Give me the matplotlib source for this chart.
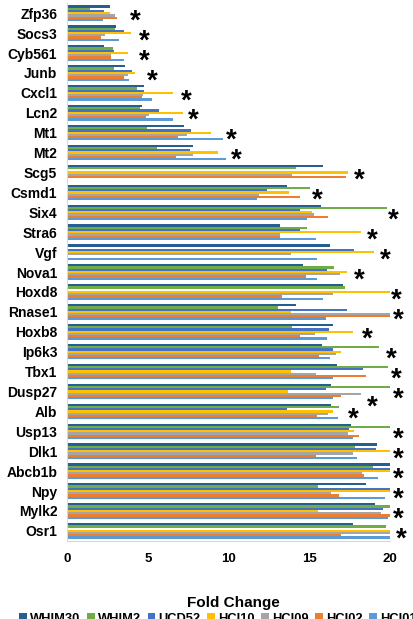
import numpy as np
import matplotlib
matplotlib.use("Agg")
import matplotlib.pyplot as plt

plt.rcParams["font.family"] = ["Liberation Sans", "DejaVu Sans"]
plt.rcParams["font.weight"] = "bold"

# genes listed top to bottom
genes = ["Zfp36", "Socs3", "Cyb561", "Junb", "Cxcl1", "Lcn2", "Mt1", "Mt2",
         "Scg5", "Csmd1", "Six4", "Stra6", "Vgf", "Nova1", "Hoxd8", "Rnase1",
         "Hoxb8", "Ip6k3", "Tbx1", "Dusp27", "Alb", "Usp13", "Dlk1", "Abcb1b",
         "Npy", "Mylk2", "Osr1"]

series = ["WHIM30", "WHIM2", "UCD52", "HCI10", "HCI09", "HCI02", "HCI01"]
colors = ["#255E91", "#70AD47", "#4472C4", "#FFC000", "#A5A5A5", "#ED7D31", "#5B9BD5"]

whim30 = [2.66, 3.03, 2.29, 3.59, 4.79, 4.62, 7.27, 7.78, 15.87, 13.6, 15.73, 13.19, 16.28,
          14.63, 17.07, 14.16, 16.49, 15.77, 16.7, 16.35, 16.35, 17.57, 19.18, 20, 18.5, 19.07, 17.73]
whim2 = [1.42, 2.97, 2.83, 2.91, 4.32, 4.52, 4.93, 5.55, 14.16, 15.05, 19.79, 14.84, 0,
         16.53, 17.21, 13.05, 13.91, 19.34, 19.86, 20, 16.86, 20, 17.83, 18.97, 15.52, 20, 19.75]
ucd52 = [2.29, 3.55, 2.91, 4.0, 4.77, 5.68, 7.66, 7.62, 0, 12.36, 14.43, 14.43, 17.77,
         16.08, 0, 17.32, 16.24, 16.49, 18.31, 16.04, 13.6, 17.46, 19.11, 20, 20, 19.59, 0]
hci10 = [2.66, 3.94, 3.78, 4.19, 6.58, 7.16, 8.92, 9.33, 17.42, 13.77, 15.15, 18.18, 19.01,
         17.36, 20, 13.87, 17.73, 16.95, 13.87, 13.66, 16.45, 17.77, 20, 20, 20, 15.56, 20]
hci09 = [2.97, 2.35, 2.7, 3.76, 4.69, 5.06, 7.45, 7.82, 13.91, 11.91, 15.29, 13.19, 13.85,
         16.9, 16.49, 20, 15.36, 16.66, 15.42, 18.2, 16.18, 17.42, 17.69, 18.25, 16.35, 19.42, 20]
hci02 = [3.07, 2.1, 2.72, 3.53, 4.64, 4.87, 6.85, 6.73, 17.26, 14.43, 16.14, 13.19, 0,
         14.8, 13.29, 20, 14.43, 15.6, 18.5, 16.97, 15.46, 18.1, 15.39, 18.39, 16.86, 20, 16.95]
hci01 = [2.21, 3.22, 3.53, 3.84, 5.24, 6.54, 9.68, 9.83, 0, 11.78, 14.84, 15.42, 15.46,
         15.46, 15.83, 16.02, 16.12, 16.28, 16.49, 16.49, 16.8, 17.69, 17.94, 19.24, 19.69, 19.86, 20]

# significance stars: gene, x position, vertical shift in rows
star_genes = ["Zfp36", "Socs3", "Cyb561", "Junb", "Cxcl1", "Lcn2", "Mt1", "Mt2", "Scg5",
              "Csmd1", "Six4", "Stra6", "Vgf", "Nova1", "Hoxd8", "Rnase1", "Hoxb8", "Ip6k3",
              "Tbx1", "Dusp27", "Dusp27", "Alb", "Usp13", "Dlk1", "Abcb1b", "Npy", "Mylk2", "Osr1"]
star_x = [4.2, 4.8, 4.8, 5.3, 7.4, 7.8, 10.2, 10.5, 18.1, 15.5, 20.2, 18.9, 19.7, 18.1,
          20.4, 20.5, 18.6, 20.1, 20.4, 20.5, 18.9, 17.7, 20.5, 20.5, 20.5, 20.5, 20.5, 20.7]
star_dy = [0] * 20 + [0.4] + [0] * 7

values = [whim30, whim2, ucd52, hci10, hci09, hci02, hci01]

fig = plt.figure(figsize=(4.13, 6.19), dpi=100)
ax = fig.add_axes([0.1622, 0.1263, 0.7821, 0.8684])

y = np.arange(len(genes))
h = 0.112
bars = []
for j, (vals, c) in enumerate(zip(values, colors)):
    b = ax.barh(y + (j - 3) * h, vals, height=h, color=c, label=series[j])
    bars.append(b)

ax.set_ylim(len(genes) - 0.5, -0.5)
ax.set_xlim(0, 20)
ax.set_xticks([0, 5, 10, 15, 20])
ax.set_yticks(y)
ax.set_yticklabels(genes, fontsize=10, fontweight="bold")
ax.tick_params(axis="both", length=0)
ax.tick_params(axis="y", pad=7)
ax.tick_params(axis="x", pad=9, labelsize=9.5)
for s in ["top", "right"]:
    ax.spines[s].set_visible(False)
for s in ["left", "bottom"]:
    ax.spines[s].set_color("#D9D9D9")
    ax.spines[s].set_linewidth(0.8)

for g, sx, dy in zip(star_genes, star_x, star_dy):
    ax.annotate("*", (sx, genes.index(g) + dy), xytext=(0, -11), textcoords="offset points",
                ha="center", va="baseline", fontsize=20, fontweight="bold",
                annotation_clip=False)

fig.text(0.566, 0.026, "Fold Change", ha="center", va="center", fontsize=11, fontweight="bold")

fig.legend(handles=bars, labels=series, loc="center", bbox_to_anchor=(0.528, 0.0),
           ncol=7, frameon=False, fontsize=9.3, handlelength=0.6, handleheight=0.6,
           handletextpad=0.25, columnspacing=0.5, borderaxespad=0)

fig.savefig("out.png", dpi=100)
